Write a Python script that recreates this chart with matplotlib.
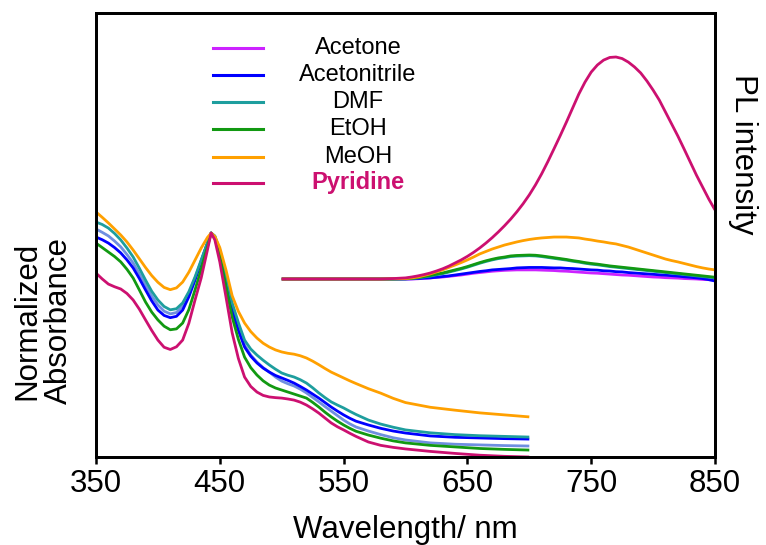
import matplotlib
matplotlib.use("Agg")
import matplotlib.pyplot as plt

plt.rcParams['font.family'] = ['Liberation Sans', 'DejaVu Sans']

# ---------------- data ----------------
solvents = ["Acetone", "Acetonitrile", "DMF", "EtOH", "MeOH", "Pyridine"]
colors = ["#CC22FF", "#0000FF", "#1E9E9E", "#129912", "#FFA000", "#CC1070"]
abs_acetone_color = "#6F8FE0"

abs_wl = (list(range(350, 445, 5)) + [443, 446] + list(range(450, 565, 5))
          + [570, 580, 590, 600, 620, 640, 660, 680, 700])

abs_meoh = [1.094, 1.070, 1.045, 1.018, 0.991, 0.960, 0.924, 0.885, 0.846, 0.810,
            0.780, 0.757, 0.747, 0.755, 0.781, 0.825, 0.879, 0.933, 0.980,
            1.000, 0.985,
            0.935, 0.835, 0.720, 0.650, 0.598, 0.560, 0.531, 0.508, 0.491, 0.478,
            0.469, 0.463, 0.459, 0.452, 0.442, 0.428, 0.412, 0.395, 0.379, 0.366,
            0.353, 0.340, 0.328,
            0.305, 0.285, 0.262, 0.243, 0.222, 0.209, 0.197, 0.188, 0.179]
abs_dmf = [1.049, 1.038, 1.022, 0.998, 0.969, 0.933, 0.893, 0.843, 0.790, 0.740,
           0.701, 0.672, 0.657, 0.662, 0.688, 0.738, 0.804, 0.880, 0.955,
           1.000, 0.987,
           0.924, 0.813, 0.688, 0.600, 0.522, 0.482, 0.455, 0.432, 0.411, 0.392,
           0.375, 0.365, 0.357, 0.345, 0.330, 0.309, 0.286, 0.265, 0.246, 0.232,
           0.219, 0.204, 0.190,
           0.165, 0.147, 0.133, 0.121, 0.108, 0.100, 0.095, 0.092, 0.089]
abs_acetone = [1.018, 1.003, 0.987, 0.964, 0.938, 0.904, 0.866, 0.818, 0.768, 0.719,
               0.679, 0.651, 0.639, 0.645, 0.674, 0.728, 0.799, 0.878, 0.955,
               1.000, 0.982,
               0.915, 0.799, 0.674, 0.578, 0.500, 0.455, 0.424, 0.399, 0.379, 0.357,
               0.339, 0.327, 0.317, 0.303, 0.286, 0.266, 0.246, 0.225, 0.205, 0.185,
               0.165, 0.148, 0.134,
               0.116, 0.100, 0.086, 0.076, 0.063, 0.057, 0.054, 0.051, 0.049]
abs_acetonitrile = [0.982, 0.970, 0.955, 0.935, 0.911, 0.880, 0.844, 0.797, 0.746, 0.697,
                    0.656, 0.632, 0.622, 0.628, 0.656, 0.715, 0.790, 0.873, 0.955,
                    1.000, 0.982,
                    0.915, 0.790, 0.656, 0.565, 0.491, 0.450, 0.420, 0.397, 0.379, 0.364,
                    0.353, 0.342, 0.330, 0.315, 0.299, 0.281, 0.263, 0.243, 0.223, 0.205,
                    0.188, 0.173, 0.160,
                    0.143, 0.128, 0.116, 0.107, 0.094, 0.088, 0.085, 0.082, 0.080]
abs_etoh = [0.955, 0.935, 0.915, 0.895, 0.871, 0.838, 0.799, 0.746, 0.692, 0.647,
            0.612, 0.584, 0.568, 0.572, 0.598, 0.658, 0.746, 0.840, 0.938,
            1.000, 0.978,
            0.897, 0.759, 0.625, 0.525, 0.446, 0.399, 0.366, 0.340, 0.321, 0.308,
            0.299, 0.290, 0.281, 0.272, 0.263, 0.244, 0.223, 0.200, 0.179, 0.160,
            0.143, 0.128, 0.115,
            0.098, 0.084, 0.072, 0.063, 0.052, 0.045, 0.038, 0.034, 0.031]
abs_pyridine = [0.821, 0.795, 0.772, 0.760, 0.750, 0.730, 0.701, 0.660, 0.612, 0.565,
                0.522, 0.490, 0.480, 0.492, 0.522, 0.597, 0.701, 0.800, 0.924,
                1.000, 0.969,
                0.871, 0.714, 0.554, 0.440, 0.357, 0.315, 0.290, 0.275, 0.268, 0.265,
                0.263, 0.259, 0.254, 0.245, 0.232, 0.215, 0.196, 0.174, 0.152, 0.135,
                0.121, 0.106, 0.092,
                0.067, 0.052, 0.043, 0.036, 0.025, 0.016, 0.008, 0.003, 0.000]

pl_wl = [500, 550, 580, 590] + list(range(600, 855, 5))

pl_acetone = [0, 0, 0, 0,
              0.000, 0.000, 0.001, 0.003, 0.005, 0.007, 0.009, 0.012, 0.015, 0.018,
              0.022, 0.026, 0.029, 0.032, 0.035, 0.037, 0.039, 0.040, 0.041, 0.041,
              0.041, 0.041, 0.040, 0.039, 0.038, 0.036, 0.035, 0.033, 0.031, 0.029,
              0.027, 0.026, 0.024, 0.022, 0.020, 0.018, 0.017, 0.015, 0.013, 0.011,
              0.009, 0.008, 0.006, 0.005, 0.004, 0.002, 0.001, 0.000, -0.002, -0.003,
              -0.005]
pl_acetonitrile = [0, 0, 0, 0,
                   0.000, 0.001, 0.002, 0.004, 0.005, 0.008, 0.011, 0.014, 0.018, 0.022,
                   0.026, 0.030, 0.034, 0.037, 0.041, 0.043, 0.045, 0.047, 0.050, 0.051,
                   0.052, 0.052, 0.052, 0.051, 0.050, 0.050, 0.048, 0.047, 0.045, 0.043,
                   0.041, 0.040, 0.037, 0.036, 0.033, 0.032, 0.029, 0.027, 0.025, 0.023,
                   0.021, 0.019, 0.017, 0.015, 0.013, 0.010, 0.008, 0.005, 0.002, -0.003,
                   -0.009]
pl_dmf = [0, 0, 0, 0,
          0.001, 0.002, 0.005, 0.009, 0.013, 0.019, 0.024, 0.031, 0.038, 0.045,
          0.053, 0.062, 0.071, 0.079, 0.086, 0.092, 0.096, 0.101, 0.103, 0.104,
          0.105, 0.104, 0.101, 0.097, 0.093, 0.089, 0.085, 0.080, 0.076, 0.071,
          0.067, 0.064, 0.060, 0.056, 0.053, 0.050, 0.047, 0.044, 0.041, 0.038,
          0.035, 0.032, 0.029, 0.026, 0.023, 0.020, 0.017, 0.014, 0.011, 0.008,
          0.005]
pl_etoh = [0, 0, 0, 0,
           0.001, 0.003, 0.007, 0.011, 0.016, 0.022, 0.027, 0.034, 0.041, 0.048,
           0.056, 0.065, 0.074, 0.082, 0.089, 0.095, 0.099, 0.104, 0.106, 0.107,
           0.108, 0.107, 0.104, 0.100, 0.096, 0.092, 0.088, 0.083, 0.079, 0.074,
           0.070, 0.067, 0.063, 0.059, 0.056, 0.053, 0.050, 0.047, 0.044, 0.041,
           0.038, 0.035, 0.032, 0.029, 0.026, 0.023, 0.020, 0.017, 0.014, 0.011,
           0.008]
pl_meoh = [0, 0, 0, 0.001,
           0.002, 0.005, 0.009, 0.016, 0.023, 0.032, 0.041, 0.052, 0.063, 0.074,
           0.086, 0.099, 0.113, 0.124, 0.135, 0.144, 0.153, 0.160, 0.167, 0.173,
           0.178, 0.182, 0.185, 0.187, 0.189, 0.189, 0.189, 0.187, 0.185, 0.180,
           0.176, 0.171, 0.167, 0.162, 0.158, 0.151, 0.144, 0.135, 0.126, 0.117,
           0.108, 0.099, 0.090, 0.083, 0.077, 0.070, 0.063, 0.056, 0.050, 0.045,
           0.041]
pl_pyridine = [0, 0, 0, 0.002,
               0.005, 0.009, 0.014, 0.020, 0.027, 0.036, 0.046, 0.058, 0.072, 0.086,
               0.102, 0.120, 0.140, 0.162, 0.186, 0.212, 0.240, 0.270, 0.303, 0.339,
               0.379, 0.424, 0.474, 0.529, 0.587, 0.646, 0.707, 0.770, 0.833, 0.887,
               0.932, 0.964, 0.986, 0.998, 1.000, 0.993, 0.977, 0.955, 0.928, 0.892,
               0.851, 0.806, 0.752, 0.698, 0.644, 0.586, 0.527, 0.468, 0.414, 0.360,
               0.311]

xticks = [350, 450, 550, 650, 750, 850]

# ---------------- figure ----------------
W, H = 766, 545
fig = plt.figure(figsize=(W / 100, H / 100), dpi=100)
ax = fig.add_axes([96 / W, (H - 457) / H, (715 - 96) / W, (457 - 13) / H])
ax2 = ax.twinx()

abs_series = [abs_acetone, abs_acetonitrile, abs_dmf, abs_etoh, abs_meoh, abs_pyridine]
abs_colors = [abs_acetone_color] + colors[1:]
pl_series = [pl_acetone, pl_acetonitrile, pl_dmf, pl_etoh, pl_meoh, pl_pyridine]

lw = 2.0
for ys, c in zip(abs_series, abs_colors):
    ax.plot(abs_wl, ys, color=c, lw=lw, solid_capstyle='butt', solid_joinstyle='round')
for ys, c in zip(pl_series, colors):
    ax2.plot(pl_wl, ys, color=c, lw=lw, solid_capstyle='butt', solid_joinstyle='round')

ax.set_xlim(350, 850)
ax.set_ylim(0, 444 / 224)
ax2.set_ylim(-178 / 222, 266 / 222)

ax.set_xticks(xticks)
ax.set_xticklabels([str(t) for t in xticks], fontsize=22.5)
ax.tick_params(axis='x', direction='out', length=5, width=1.8, pad=4)
ax.set_yticks([])
ax2.set_yticks([])
for a in (ax, ax2):
    for s in a.spines.values():
        s.set_linewidth(2.0)

# axis labels
fig.text(405 / W, 1 - 538 / H, "Wavelength/ nm", fontsize=22.5, ha='center', va='baseline')
fig.text(43 / W, 1 - 321 / H, "Normalized\nAbsorbance", fontsize=22.5, rotation=90,
         ha='center', va='center', multialignment='center', linespacing=1.05)
fig.text(743 / W, 1 - 154 / H, "PL intensity", fontsize=22.5, rotation=270,
         ha='center', va='center')

# legend (manual, labels centered)
row_y = [48, 75, 102, 129, 157, 183]
for name, c, yp in zip(solvents, colors, row_y):
    yf = (457 - yp) / 444
    ax.plot([(213 - 96) / 619, (263 - 96) / 619], [yf, yf], color=c, lw=2.2,
            transform=ax.transAxes, clip_on=False)
    if name == "Pyridine":
        ax.text((358 - 96) / 619, yf, name, transform=ax.transAxes, fontsize=17,
                ha='center', va='center', color=c, fontweight='bold')
    else:
        ax.text((358 - 96) / 619, yf, name, transform=ax.transAxes, fontsize=17,
                ha='center', va='center', color='black')

fig.savefig("out.png", dpi=100)
